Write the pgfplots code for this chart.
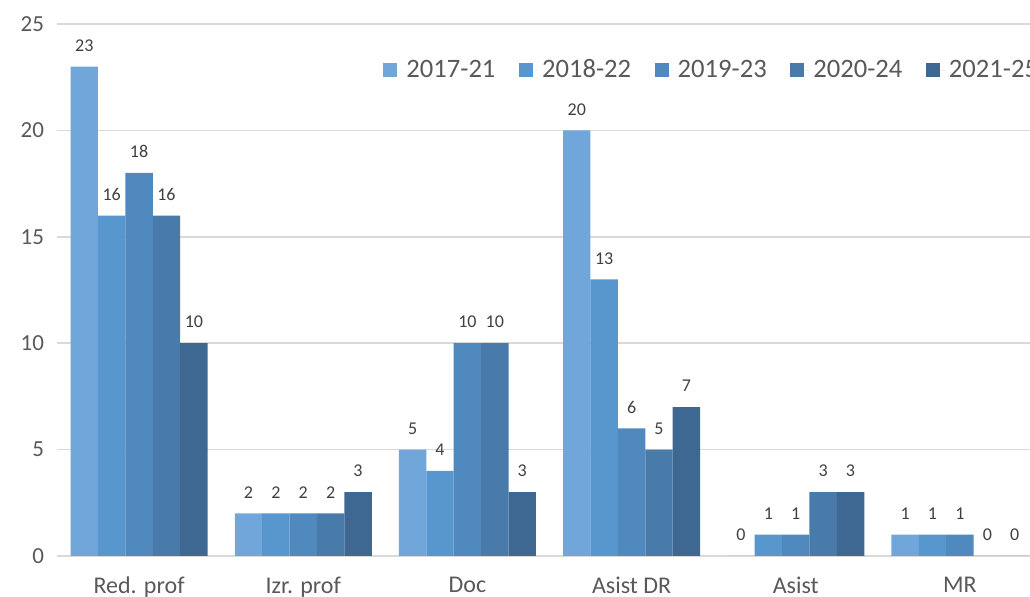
\documentclass[border=0pt]{standalone}
\usepackage{fontspec}
\setmainfont{Carlito}
\usepackage{pgfplots}
\pgfplotsset{compat=1.18}
\definecolor{cA}{HTML}{71A6DA}
\definecolor{cB}{HTML}{5797CE}
\definecolor{cC}{HTML}{4F89BE}
\definecolor{cD}{HTML}{487BAA}
\definecolor{cE}{HTML}{3E6892}
\definecolor{txt}{HTML}{595959}
\definecolor{lbl}{HTML}{404040}
\definecolor{gridc}{HTML}{D9D9D9}
\begin{document}
\begin{tikzpicture}
\begin{axis}[
  at={(28.5pt,20.5pt)}, anchor=south west,
  scale only axis, width=492.5pt, height=266pt,
  ybar=0pt, bar width=13.7pt,
  xmin=-0.5, xmax=5.5, ymin=0, ymax=25,
  enlargelimits=false, clip=false,
  axis line style={draw=none},
  major tick length=0pt,
  ymajorgrids, grid style={gridc, line width=0.8pt},
  ytick={0,5,...,25},
  xtick={0,...,5},
  xticklabels={Red. prof, Izr. prof, Doc, Asist DR, Asist, MR},
  /pgf/number format/assume math mode=true,
  yticklabel style={font=\fontsize{11.5}{13}\selectfont, text=txt, xshift=-3pt},
  xticklabel style={font=\fontsize{12}{14}\selectfont, text=txt, yshift=-7pt},
  nodes near coords,
  every node near coord/.append style={font=\fontsize{9}{11}\selectfont, text=lbl, anchor=south, yshift=4pt},
  legend columns=5,
  legend style={draw=none, fill=none, inner sep=0pt, at={(0.331,0.9135)}, anchor=west,
    font=\fontsize{13.3}{15}\selectfont, text=txt,
    /tikz/every even column/.append style={column sep=9.8pt}},
  legend image code/.code={\fill[#1] (0pt,-3.5pt) rectangle (7pt,3.5pt); \path (0pt,0pt) -- (9.5pt,0pt);},
]
\addplot[fill=cA, draw=none] coordinates {(0,23) (1,2) (2,5) (3,20) (4,0) (5,1)};
\addplot[fill=cB, draw=none] coordinates {(0,16) (1,2) (2,4) (3,13) (4,1) (5,1)};
\addplot[fill=cC, draw=none] coordinates {(0,18) (1,2) (2,10) (3,6) (4,1) (5,1)};
\addplot[fill=cD, draw=none] coordinates {(0,16) (1,2) (2,10) (3,5) (4,3) (5,0)};
\addplot[fill=cE, draw=none] coordinates {(0,10) (1,3) (2,3) (3,7) (4,3) (5,0)};
\legend{2017-21, 2018-22, 2019-23, 2020-24, 2021-25}
\end{axis}
\pgfresetboundingbox
\path[use as bounding box] (0,0) rectangle (515pt,298.5pt);
\end{tikzpicture}
\end{document}
